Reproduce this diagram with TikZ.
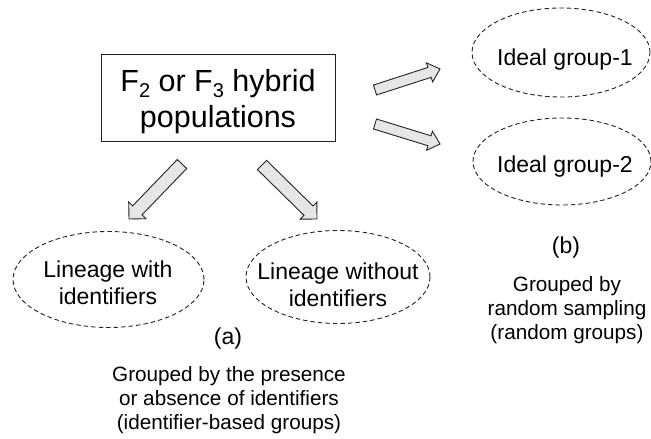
\documentclass[tikz,border=0pt]{standalone}
\usepackage{fontspec}
\setmainfont{Liberation Sans}
\usetikzlibrary{calc,shapes.geometric}
\definecolor{arrfill}{HTML}{E6E6E6}
\definecolor{edge}{HTML}{222222}
\newcommand\subsc[1]{\raisebox{-6pt}{\fontsize{20}{20}\selectfont #1}}
\newcommand\blockarrow[5]{%
  \coordinate (#1n) at ($(#2)!#5!(#1)$);
  \draw[blk] ($(#1)!#3!90:(#2)$) -- ($(#1n)!#3!90:(#2)$) -- ($(#1n)!#4!90:(#2)$) -- (#2)
    -- ($(#1n)!#4!-90:(#2)$) -- ($(#1n)!#3!-90:(#2)$) -- ($(#1)!#3!-90:(#2)$) -- cycle;
}
\begin{document}
\begin{tikzpicture}[x=1pt,y=-1pt,
  blk/.style={draw=edge, fill=arrfill, line width=0.9pt, line join=miter},
  grp/.style={ellipse, draw=edge, dash pattern=on 4.5pt off 3pt, line width=0.9pt, inner sep=0pt},
  mainbox/.style={draw=edge, line width=1pt, inner sep=0pt, minimum width=234pt, minimum height=87pt},
  big/.style={font=\fontsize{30.5}{36}\selectfont, inner sep=0pt, anchor=base},
  mid/.style={font=\fontsize{23}{27}\selectfont, inner sep=0pt, anchor=base},
  small/.style={font=\fontsize{20.7}{24}\selectfont, inner sep=0pt, anchor=base}]
\useasboundingbox (0,0) rectangle (651,439);
% main box
\node[mainbox] (pop) at (218,98) {};
\node[big] (pop1) at (218,91) {F\subsc{2} or F\subsc{3} hybrid};
\node[big] (pop2) at (218,127) {populations};
% ideal groups
\node[grp, minimum width=178pt, minimum height=89pt] (ig1) at (561,52.5) {};
\node[mid] (ig1t) at (565,65) {Ideal group-1};
\node[grp, minimum width=178pt, minimum height=87pt] (ig2) at (562,161.5) {};
\node[mid] (ig2t) at (565,172) {Ideal group-2};
% lineages
\node[grp, minimum width=191pt, minimum height=96pt] (lw) at (108.5,279.5) {};
\node[mid] (lw1) at (108,277) {Lineage with};
\node[mid] (lw2) at (108,304) {identifiers};
\node[grp, minimum width=184pt, minimum height=93pt] (lwo) at (338,277) {};
\node[mid] (lwo1) at (338,279) {Lineage without};
\node[mid] (lwo2) at (338,306) {identifiers};
% captions
\node[mid] (la) at (228,344) {(a)};
\node[small] (ca1) at (229,381.5) {Grouped by the presence};
\node[small] (ca2) at (229,405.5) {or absence of identifiers};
\node[small] (ca3) at (229,429.5) {(identifier-based groups)};
\node[mid] (lb) at (566,253) {(b)};
\node[small] (cb1) at (567,291) {Grouped by};
\node[small] (cb2) at (567,315) {random sampling};
\node[small] (cb3) at (567,339) {(random groups)};
% block arrows
\coordinate (t1) at (182,164); \coordinate (h1) at (129,219);
\coordinate (t2) at (262,165); \coordinate (h2) at (317,219);
\coordinate (t3) at (375,90);  \coordinate (h3) at (440,69);
\coordinate (t4) at (375,124); \coordinate (h4) at (440,144);
\blockarrow{t1}{h1}{6.5pt}{12pt}{12pt}
\blockarrow{t2}{h2}{6.5pt}{12pt}{12pt}
\blockarrow{t3}{h3}{5.2pt}{10pt}{11pt}
\blockarrow{t4}{h4}{5.2pt}{10pt}{11pt}
\end{tikzpicture}
\end{document}
